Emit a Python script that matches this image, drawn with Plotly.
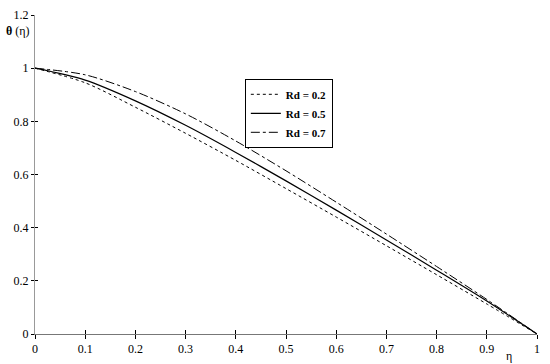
import plotly.graph_objects as go

eta = [0, 0.1, 0.2, 0.3, 0.4, 0.5, 0.6, 0.7, 0.8, 0.9, 1.0]
theta_rd02 = [1.0, 0.945, 0.853, 0.755, 0.653, 0.547, 0.440, 0.332, 0.223, 0.113, 0.0]
theta_rd05 = [1.0, 0.955, 0.877, 0.785, 0.683, 0.576, 0.466, 0.354, 0.240, 0.124, 0.0]
theta_rd07 = [1.0, 0.975, 0.912, 0.828, 0.726, 0.614, 0.496, 0.376, 0.254, 0.130, 0.0]
series_names = ["Rd = 0.2", "Rd = 0.5", "Rd = 0.7"]
x_ticks = [0, 0.1, 0.2, 0.3, 0.4, 0.5, 0.6, 0.7, 0.8, 0.9, 1]
x_ticklabels = ["0", "0.1", "0.2", "0.3", "0.4", "0.5", "0.6", "0.7", "0.8", "0.9", "1"]
y_ticks = [0, 0.2, 0.4, 0.6, 0.8, 1, 1.2]
y_ticklabels = ["0", "0.2", "0.4", "0.6", "0.8", "1", "1.2"]

font = "Times New Roman"
fig = go.Figure()
for name, ys, dash, w in zip(series_names, [theta_rd02, theta_rd05, theta_rd07],
                             ["dot", "solid", "dashdot"], [1.0, 1.2, 1.0]):
    fig.add_trace(go.Scatter(x=eta, y=ys, mode="lines", name=name,
                             line=dict(color="black", dash=dash, width=w, shape="spline",
                                       smoothing=0.8)))

# overlay axis for inward tick halves
fig.add_trace(go.Scatter(x=[0, 1], y=[0, 0], xaxis="x2", yaxis="y2", mode="lines",
                         line=dict(width=0), showlegend=False, hoverinfo="skip"))

fig.update_layout(
    width=550, height=364,
    margin=dict(l=35, r=13, t=8, b=28),
    paper_bgcolor="white", plot_bgcolor="white",
    font=dict(family=font, size=12, color="black"),
    showlegend=True,
    legend=dict(x=0.418, y=0.80, xanchor="left", yanchor="top",
                bordercolor="black", borderwidth=1, bgcolor="white",
                font=dict(family=font, size=11, color="black", weight="bold"),
                itemwidth=30, tracegroupgap=0),
    xaxis=dict(range=[0, 1], tickvals=x_ticks, ticktext=x_ticklabels,
               showgrid=False, zeroline=False, showline=True, linecolor="#777",
               linewidth=1, ticks="outside", ticklen=4, tickcolor="black",
               tickfont=dict(family=font, size=12, color="black")),
    yaxis=dict(range=[0, 1.2], tickvals=y_ticks, ticktext=y_ticklabels,
               showgrid=False, zeroline=False, showline=True, linecolor="#999",
               linewidth=1, ticks="outside", ticklen=3, tickcolor="black",
               tickfont=dict(family="serif", size=12, color="black")),
    xaxis2=dict(range=[0, 1], overlaying="x", tickvals=x_ticks, showticklabels=False,
                showgrid=False, zeroline=False, showline=False, ticks="inside",
                ticklen=4, tickcolor="black"),
    yaxis2=dict(range=[0, 1.2], overlaying="y", tickvals=y_ticks, showticklabels=False,
                showgrid=False, zeroline=False, showline=False, ticks="inside",
                ticklen=3, tickcolor="black"),
    annotations=[
        dict(text="<b>θ</b> (η)", x=-0.062, y=0.95, xref="paper", yref="paper",
             showarrow=False, xanchor="left", yanchor="middle",
             font=dict(family=font, size=12)),
        dict(text="η", x=0.945, y=-0.04, xref="paper", yref="paper",
             showarrow=False, xanchor="center", yanchor="top",
             font=dict(family=font, size=12)),
    ],
)
fig.write_html("out.html")
